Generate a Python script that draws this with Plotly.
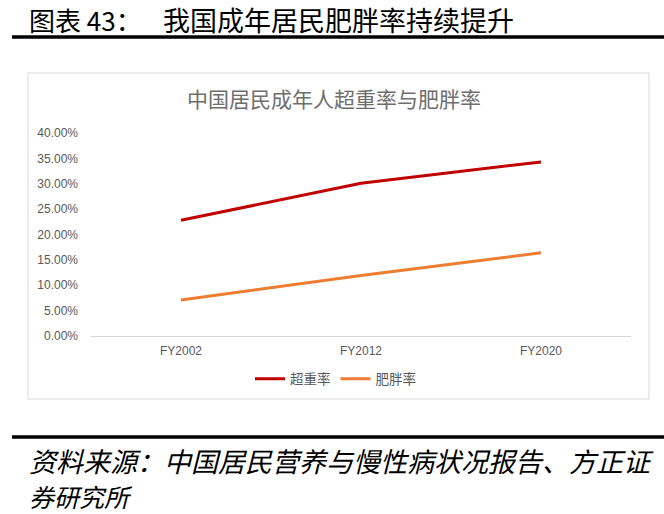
import plotly.graph_objects as go

# data
years = ["FY2002", "FY2012", "FY2020"]
overweight = [0.228, 0.301, 0.343]
obesity = [0.071, 0.119, 0.164]
y_ticks = [0, 0.05, 0.10, 0.15, 0.20, 0.25, 0.30, 0.35, 0.40]
y_tick_text = ["0.00%", "5.00%", "10.00%", "15.00%", "20.00%", "25.00%", "30.00%", "35.00%", "40.00%"]

W, H = 664, 514
L, R, T, B = 91, 631, 133, 336  # plot area in window pixels


def px(x):
    return (x - L) / (R - L)


def py(y):
    return (B - y) / (B - T)


CJK = "Noto Sans CJK SC"
SANS = "Liberation Sans, Arial, sans-serif"

fig = go.Figure()
fig.add_trace(go.Scatter(x=years, y=overweight, name="超重率", mode="lines",
                         line=dict(color="#C00000", width=3)))
fig.add_trace(go.Scatter(x=years, y=obesity, name="肥胖率", mode="lines",
                         line=dict(color="#ED7D31", width=3)))

shapes = [
    # chart frame
    dict(type="rect", xref="paper", yref="paper", x0=px(28), x1=px(649), y0=py(399), y1=py(73),
         line=dict(color="#D9D9D9", width=1), layer="below"),
    # thick rules
    dict(type="line", xref="paper", yref="paper", x0=px(12), x1=px(664), y0=py(37), y1=py(37),
         line=dict(color="black", width=3.5)),
    dict(type="line", xref="paper", yref="paper", x0=px(12), x1=px(664), y0=py(437), y1=py(437),
         line=dict(color="black", width=3.5)),
]

annotations = [
    dict(text="图表 43：", x=px(27), y=py(19), xref="paper", yref="paper", xanchor="left",
         yanchor="middle", showarrow=False, font=dict(family=CJK, size=26, color="black")),
    dict(text="我国成年居民肥胖率持续提升", x=px(161), y=py(19), xref="paper", yref="paper",
         xanchor="left", yanchor="middle", showarrow=False,
         font=dict(family=CJK, size=27, color="black")),
    dict(text="中国居民成年人超重率与肥胖率", x=px(334), y=py(98), xref="paper", yref="paper",
         xanchor="center", yanchor="middle", showarrow=False,
         font=dict(family=CJK, size=21, color="#6E6E6E")),
    dict(text="<i>资料来源：中国居民营养与慢性病状况报告、方正证</i>", x=px(27), y=py(460),
         xref="paper", yref="paper", xanchor="left", yanchor="middle", showarrow=False,
         font=dict(family=CJK, size=27, color="black")),
    dict(text="<i>券研究所</i>", x=px(27), y=py(496), xref="paper", yref="paper",
         xanchor="left", yanchor="middle", showarrow=False,
         font=dict(family=CJK, size=25, color="black")),
]

fig.update_layout(
    width=W, height=H,
    margin=dict(l=L, r=W - R, t=T, b=H - B, pad=0),
    paper_bgcolor="white", plot_bgcolor="white",
    showlegend=True,
    legend=dict(orientation="h", x=px(250), y=py(379), xanchor="left", yanchor="middle",
                font=dict(family=CJK, size=13.5, color="#595959"),
                itemwidth=30, tracegroupgap=0, bgcolor="rgba(0,0,0,0)"),
    xaxis=dict(range=[-0.5, 2.5], showgrid=False, zeroline=False, showline=True,
               linecolor="#D9D9D9", linewidth=1, ticks="", ticklabelstandoff=4,
               tickfont=dict(family=SANS, size=12, color="#595959")),
    yaxis=dict(range=[0, 0.4], tickvals=y_ticks, ticktext=y_tick_text, showgrid=False,
               zeroline=False, showline=False, ticks="", ticklabelstandoff=12,
               tickfont=dict(family=SANS, size=12, color="#595959")),
    shapes=shapes,
    annotations=annotations,
)

# drop the browser's default page margin so the figure fills the window
fig.write_html("out.html", config={"displayModeBar": False},
               post_script="document.body.style.margin = '0';")
